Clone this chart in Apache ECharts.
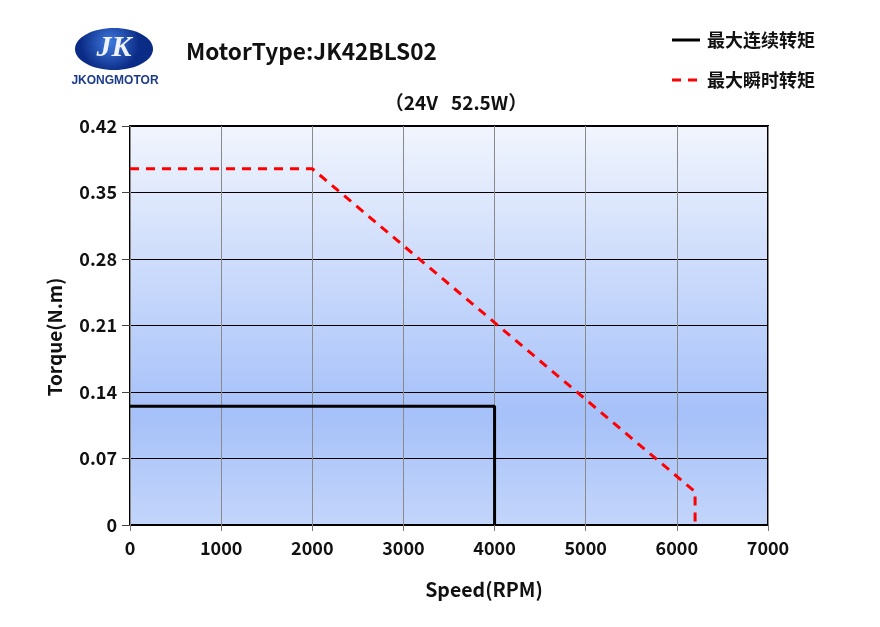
<!DOCTYPE html>
<html><head><meta charset="utf-8">
<script src="https://cdn.jsdelivr.net/npm/echarts@6/dist/echarts.min.js"></script>
<style>html,body{margin:0;padding:0;background:#fff}#c{width:880px;height:627px}</style>
</head><body><div id="c"></div>
<script>
const xTicks = [0,1000,2000,3000,4000,5000,6000,7000];
const yTicks = [0,0.07,0.14,0.21,0.28,0.35,0.42];
const contSpeed = [0, 4000, 4000];
const contTorque = [0.125, 0.125, 0];
const peakSpeed = [0, 2000, 6200, 6200];
const peakTorque = [0.375, 0.375, 0.035, 0];
const seriesNames = ['最大连续转矩','最大瞬时转矩'];

const F = '"Noto Sans CJK SC","Noto Sans",sans-serif';
const chart = echarts.init(document.getElementById('c'));
chart.setOption({
  animation:false,
  grid:{left:130,right:112,top:126,bottom:102,show:true,borderColor:'#000',borderWidth:2,
    backgroundColor:new echarts.graphic.LinearGradient(0,0,0,1,[
      {offset:0,color:'#f1f5fd'},{offset:0.72,color:'#a6c1f9'},{offset:1,color:'#c3d5fa'}])},
  xAxis:{type:'value',min:0,max:7000,interval:1000,
    axisLine:{show:false},
    axisTick:{show:true,length:6,lineStyle:{color:'#777'}},
    axisLabel:{color:'#111',fontFamily:F,fontWeight:'bold',fontSize:18,margin:14,
      formatter:v=>String(v)},
    splitLine:{show:true,lineStyle:{color:'#8a8a8a',width:1}}},
  yAxis:{type:'value',min:0,max:0.42,interval:0.07,
    axisLine:{show:false},
    axisTick:{show:true,length:8,lineStyle:{color:'#444'}},
    axisLabel:{color:'#111',fontFamily:F,fontWeight:'bold',fontSize:18,margin:13,
      formatter:v=>v===0?'0':v.toFixed(2)},
    splitLine:{show:true,lineStyle:{color:'#000',width:1}}},
  series:[
    {name:seriesNames[0],type:'line',data:contSpeed.map((x,i)=>[x,contTorque[i]]),symbol:'none',
      lineStyle:{color:'#000',width:3},z:3},
    {name:seriesNames[1],type:'line',data:peakSpeed.map((x,i)=>[x,peakTorque[i]]),symbol:'none',
      lineStyle:{color:'#f00',width:3,type:[9,7]},z:4}
  ],
  graphic:[
    {type:'ellipse',shape:{cx:114,cy:49,rx:39,ry:21},style:{fill:new echarts.graphic.RadialGradient(0.45,0.35,0.7,[{offset:0,color:'#3f7ae0'},{offset:1,color:'#0b2c86'}])}},
    {type:'text',x:114,y:48,style:{text:'JK',fill:'#fff',font:'italic bold 30px serif',opacity:0.92,textAlign:'center',textVerticalAlign:'middle'}},
    {type:'text',x:115,y:81,style:{text:'JKONGMOTOR',fill:'#1a3a8a',font:'900 12px "Liberation Sans",sans-serif',textAlign:'center',textVerticalAlign:'middle'}},
    {type:'text',x:186,y:51,style:{text:'MotorType:JK42BLS02',fill:'#111',font:'bold 22.6px '+F,textVerticalAlign:'middle'}},
    {type:'text',x:456,y:103,style:{text:'（24V   52.5W）',fill:'#111',font:'bold 19px '+F,textAlign:'center',textVerticalAlign:'middle'}},
    {type:'line',shape:{x1:672,y1:40,x2:700,y2:40},style:{stroke:'#000',lineWidth:3}},
    {type:'text',x:707,y:40,style:{text:seriesNames[0],fill:'#111',font:'bold 18px '+F,textVerticalAlign:'middle'}},
    {type:'line',shape:{x1:672,y1:80,x2:700,y2:80},style:{stroke:'#f00',lineWidth:3,lineDash:[9,7]}},
    {type:'text',x:707,y:80,style:{text:seriesNames[1],fill:'#111',font:'bold 18px '+F,textVerticalAlign:'middle'}},
    {type:'text',x:484,y:590,style:{text:'Speed(RPM)',fill:'#111',font:'bold 19.5px '+F,textAlign:'center',textVerticalAlign:'middle'}},
    {type:'text',x:55,y:337,rotation:Math.PI/2,style:{text:'Torque(N.m)',fill:'#111',font:'bold 19px '+F,textAlign:'center',textVerticalAlign:'middle'}}
  ]
});
</script></body></html>
